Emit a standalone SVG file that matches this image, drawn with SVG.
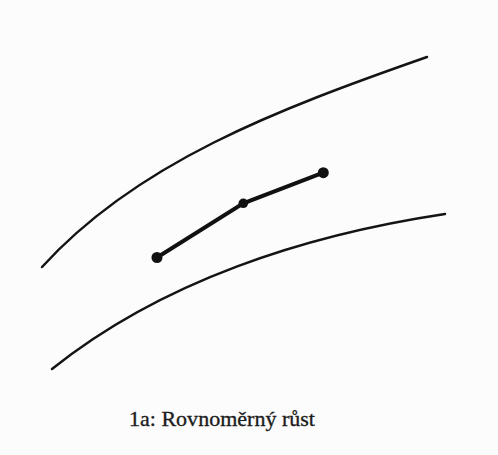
<svg xmlns="http://www.w3.org/2000/svg" width="498" height="455" viewBox="0 0 498 455">
<style>
.curve{fill:none;stroke:#141414;stroke-width:2.5;stroke-linecap:round}
.seg{fill:none;stroke:#111;stroke-width:4;stroke-linecap:round}
.dot{fill:#111}
.lbl{font-family:"Liberation Serif","Times New Roman",serif;font-size:22px;fill:#1c1c1c;stroke:#1c1c1c;stroke-width:0.35}
</style>
<rect width="498" height="455" fill="#fcfcfc"/>
<g id="bounds">
<path id="upper" class="curve" d="M42,267 C137,162.5 277,109.5 427,57"/>
<path id="lower" class="curve" d="M52,369 C162,281 305,235 445,214"/>
</g>
<g id="connectors">
<polyline class="seg" points="157,257.5 243.3,203.3 323.3,172.7"/>
</g>
<g id="p1"><circle class="dot" cx="157" cy="257.5" r="5.5"/></g>
<g id="p2"><circle class="dot" cx="243.3" cy="203.3" r="4.8"/></g>
<g id="p3"><circle class="dot" cx="323.3" cy="172.7" r="5.5"/></g>
<text class="lbl" x="129" y="426" textLength="186" lengthAdjust="spacingAndGlyphs">1a: Rovnoměrný růst</text>
</svg>
